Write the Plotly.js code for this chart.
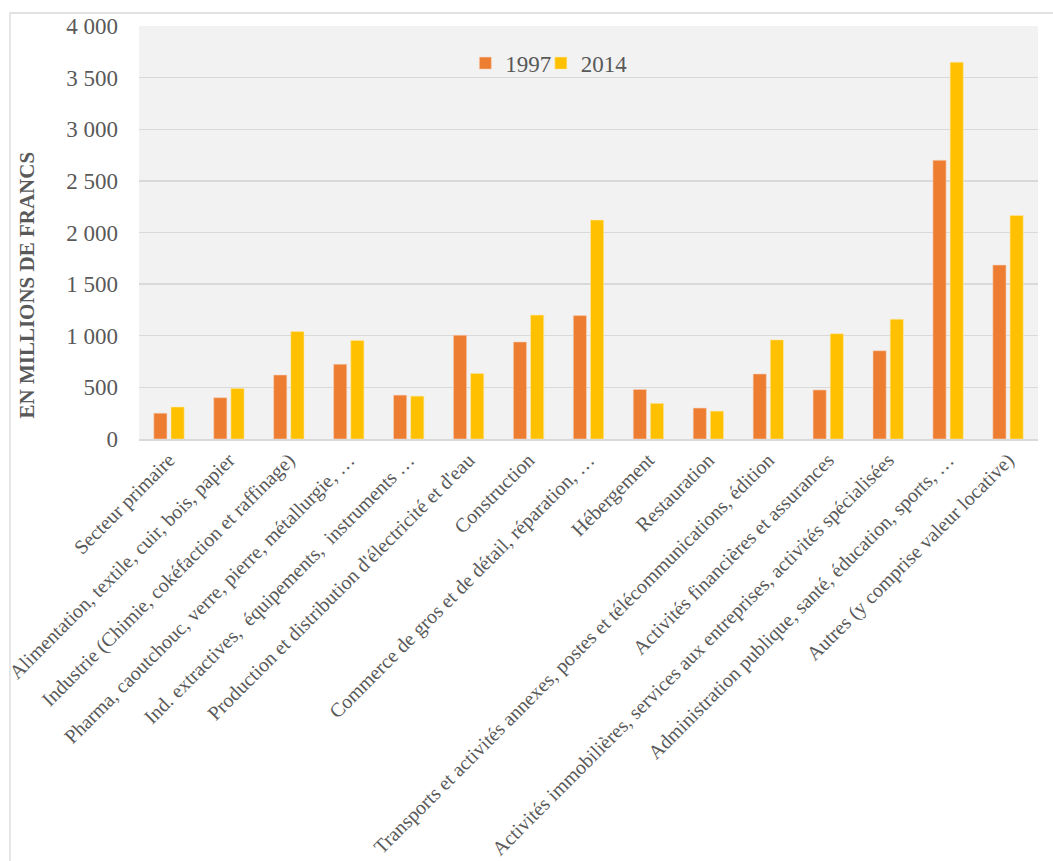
<!DOCTYPE html>
<html>
<head>
<meta charset="utf-8">
<script src="https://cdn.plot.ly/plotly-3.0.1.min.js"></script>
<style>html,body{margin:0;padding:0;background:#fff;}#chart{width:1053px;height:861px;}</style>
</head>
<body>
<div id="chart"></div>
<script>
const categories = [
  "Secteur primaire",
  "Alimentation, textile, cuir, bois, papier",
  "Industrie (Chimie, cokéfaction et raffinage)",
  "Pharma, caoutchouc, verre, pierre, métallurgie, …",
  "Ind. extractives,  équipements,  instruments …",
  "Production et distribution d'électricité et d'eau",
  "Construction",
  "Commerce de gros et de détail, réparation, …",
  "Hébergement",
  "Restauration",
  "Transports et activités annexes, postes et télécommunications, édition",
  "Activités financières et assurances",
  "Activités immobilières, services aux entreprises, activités spécialisées",
  "Administration publique, santé, éducation, sports, …",
  "Autres (y comprise valeur locative)"
];
const values1997 = [250, 400, 620, 725, 425, 1005, 940, 1195, 480, 300, 630, 475, 855, 2700, 1685];
const values2014 = [310, 490, 1040, 955, 415, 635, 1200, 2120, 345, 270, 960, 1020, 1160, 3650, 2165];
const seriesNames = ["1997", "2014"];
const yTicks = [0, 500, 1000, 1500, 2000, 2500, 3000, 3500, 4000];
const yTitle = "EN MILLIONS DE FRANCS";

const txt = "#595959";
const serif = "'Liberation Serif', 'Times New Roman', Times, serif";
const data = [
  {type: "bar", name: seriesNames[0], x: categories, y: values1997, legend: "legend",
   marker: {color: "#ED7D31", line: {color: "#f6d3bd", width: 0.6}}},
  {type: "bar", name: seriesNames[1], x: categories, y: values2014, legend: "legend2",
   marker: {color: "#FFC000", line: {color: "#fbe7a6", width: 0.6}}}
];
const legendBase = {orientation: "h", xanchor: "left", y: 0.91, yanchor: "middle",
  bgcolor: "rgba(0,0,0,0)", font: {family: serif, size: 23, color: txt}, itemwidth: 30};
const layout = {
  width: 1053, height: 861,
  margin: {l: 139, r: 15, t: 26, b: 422},
  paper_bgcolor: "#ffffff",
  plot_bgcolor: "#f2f2f2",
  separators: ", ",
  font: {family: serif, color: txt, size: 20},
  barmode: "group",
  bargap: 0.427,
  bargroupgap: 0.233,
  showlegend: true,
  legend: Object.assign({}, legendBase, {x: 0.363}),
  legend2: Object.assign({}, legendBase, {x: 0.447}),
  xaxis: {type: "category", tickangle: -45, automargin: false, showgrid: false,
          showline: true, linecolor: "#d9d9d9", linewidth: 1.5, ticks: "",
          tickfont: {family: serif, size: 20, color: txt}, fixedrange: true},
  yaxis: {range: [0, 4000], tickvals: yTicks, tickformat: ",d", automargin: false,
          showgrid: true, gridcolor: "#d9d9d9", gridwidth: 1.3, zeroline: false,
          showline: false, ticks: "", ticklabelstandoff: 20,
          tickfont: {family: serif, size: 23, color: txt}},
  annotations: [
    {text: "<b>" + yTitle + "</b>", xref: "paper", yref: "paper", x: -0.1246, y: 0.374,
     xanchor: "center", yanchor: "middle", textangle: -90, showarrow: false,
     font: {family: serif, size: 21, color: txt}}
  ],
  shapes: [
    {type: "rect", xref: "paper", yref: "paper", x0: -0.1435, x1: 1.05, y0: -1.1, y1: 1.0315,
     line: {color: "#d9d9d9", width: 1.3}, fillcolor: "rgba(0,0,0,0)", layer: "below"}
  ]
};
Plotly.newPlot("chart", data, layout, {displayModeBar: false, staticPlot: true});
</script>
</body>
</html>
